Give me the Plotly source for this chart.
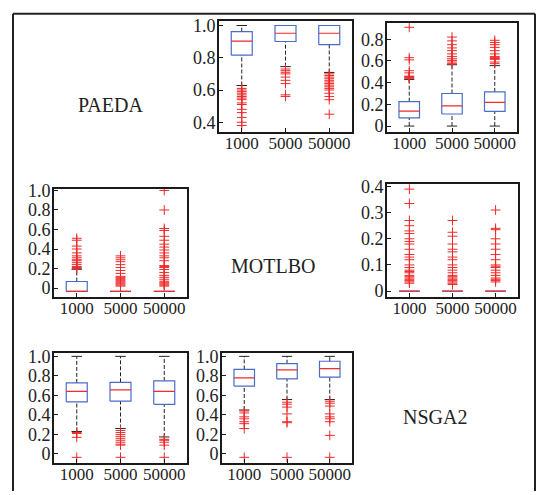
import plotly.graph_objects as go

W, H = 538, 495

categories = ["1000", "5000", "50000"]

# Row PAEDA, column MOTLBO
pm_low = [0.628, 0.745, 0.709]
pm_q1 = [0.816, 0.901, 0.881]
pm_med = [0.903, 0.952, 0.952]
pm_q3 = [0.962, 1.0, 1.0]
pm_high = [1.0, 1.0, 1.0]
pm_out = [
    [0.61, 0.60, 0.59, 0.58, 0.57, 0.56, 0.55, 0.54, 0.52, 0.51, 0.48, 0.46, 0.43, 0.40, 0.38],
    [0.73, 0.72, 0.71, 0.70, 0.68, 0.66, 0.64, 0.57, 0.56],
    [0.70, 0.69, 0.68, 0.67, 0.66, 0.65, 0.64, 0.63, 0.62, 0.61, 0.60, 0.58, 0.56, 0.54, 0.45],
]

# Row PAEDA, column NSGA2
pn_low = [0.0, 0.0, 0.0]
pn_q1 = [0.075, 0.111, 0.135]
pn_med = [0.138, 0.186, 0.219]
pn_q3 = [0.225, 0.30, 0.315]
pn_high = [0.43, 0.565, 0.557]
pn_out = [
    [0.91, 0.63, 0.61, 0.51, 0.49, 0.46, 0.455, 0.45, 0.445, 0.44],
    [0.82, 0.785, 0.75, 0.72, 0.695, 0.665, 0.64, 0.62, 0.605, 0.59, 0.575],
    [0.79, 0.77, 0.75, 0.725, 0.695, 0.665, 0.64, 0.63, 0.625, 0.62, 0.615, 0.59, 0.575],
]

# Row MOTLBO, column PAEDA
mp_low = [-0.035, -0.035, -0.035]
mp_q1 = [-0.035, -0.035, -0.035]
mp_med = [-0.035, -0.035, -0.035]
mp_q3 = [0.067, -0.035, -0.035]
mp_high = [0.193, -0.035, -0.035]
mp_out = [
    [0.51, 0.49, 0.43, 0.40, 0.36, 0.33, 0.31, 0.29, 0.28, 0.26, 0.24, 0.22, 0.21, 0.20],
    [0.33, 0.31, 0.29, 0.27, 0.24, 0.21, 0.18, 0.15, 0.12, 0.11, 0.10, 0.09, 0.08, 0.07,
     0.06, 0.05, 0.04, 0.03, 0.02],
    [1.0, 0.80, 0.61, 0.59, 0.53, 0.49, 0.45, 0.42, 0.39, 0.36, 0.33, 0.31, 0.28, 0.23,
     0.22, 0.21, 0.19, 0.16, 0.13, 0.11, 0.09, 0.07, 0.06, 0.05, 0.04, 0.03, 0.02],
]

# Row MOTLBO, column NSGA2
mn_low = [0.0, 0.0, 0.0]
mn_q1 = [0.0, 0.0, 0.0]
mn_med = [0.0, 0.0, 0.0]
mn_q3 = [0.0, 0.0, 0.0]
mn_high = [0.0, 0.0, 0.0]
mn_out = [
    [0.39, 0.335, 0.27, 0.25, 0.23, 0.22, 0.20, 0.19, 0.18, 0.16, 0.14, 0.13, 0.12, 0.10,
     0.09, 0.08, 0.075, 0.07, 0.06, 0.055, 0.05, 0.045, 0.04, 0.035, 0.03],
    [0.27, 0.225, 0.21, 0.18, 0.16, 0.15, 0.13, 0.12, 0.10, 0.09, 0.08, 0.07, 0.06, 0.055,
     0.05, 0.045, 0.04, 0.035, 0.03, 0.025],
    [0.31, 0.24, 0.235, 0.20, 0.18, 0.16, 0.14, 0.12, 0.10, 0.095, 0.09, 0.08, 0.07, 0.06,
     0.05, 0.045, 0.04, 0.035],
]

# Row NSGA2, column PAEDA
np_low = [0.23, 0.26, 0.174]
np_q1 = [0.534, 0.541, 0.508]
np_med = [0.64, 0.656, 0.64]
np_q3 = [0.728, 0.734, 0.748]
np_high = [1.0, 1.0, 1.0]
np_out = [
    [0.22, 0.21, 0.17, -0.035],
    [0.24, 0.22, 0.20, 0.18, 0.16, 0.14, 0.12, 0.10, 0.09, -0.035],
    [0.15, 0.14, 0.12, 0.09, -0.035],
]

# Row NSGA2, column MOTLBO
nm_low = [0.45, 0.557, 0.557]
nm_q1 = [0.695, 0.77, 0.787]
nm_med = [0.78, 0.862, 0.875]
nm_q3 = [0.866, 0.925, 0.95]
nm_high = [1.0, 1.0, 1.0]
nm_out = [
    [0.44, 0.42, 0.38, 0.36, 0.33, 0.31, 0.26, -0.035],
    [0.53, 0.51, 0.48, 0.41, 0.33, 0.32, -0.035],
    [0.54, 0.52, 0.49, 0.41, 0.38, 0.36, 0.33, 0.19, -0.035],
]

ticks_01 = [0, 0.2, 0.4, 0.6, 0.8, 1.0]
ticks_01_text = ["0", "0.2", "0.4", "0.6", "0.8", "1.0"]
ticks_pm = [0.4, 0.6, 0.8, 1.0]
ticks_pm_text = ["0.4", "0.6", "0.8", "1.0"]
ticks_pn = [0, 0.2, 0.4, 0.6, 0.8]
ticks_pn_text = ["0", "0.2", "0.4", "0.6", "0.8"]
ticks_mn = [0, 0.1, 0.2, 0.3, 0.4]
ticks_mn_text = ["0", "0.1", "0.2", "0.3", "0.4"]

algorithms = ["PAEDA", "MOTLBO", "NSGA2"]

BLUE = "#4a6cc8"
RED = "#ee2a2a"
FONT = "Liberation Serif"

# panels: (stats, pixel box [x0, x1, y0_top, y1_bottom], y range, ticks)
panels = [
    ((pm_low, pm_q1, pm_med, pm_q3, pm_high, pm_out), (219, 352, 13, 127), (0.34, 1.03), ticks_pm, ticks_pm_text),
    ((pn_low, pn_q1, pn_med, pn_q3, pn_high, pn_out), (387, 517, 15, 127), (-0.054, 0.953), ticks_pn, ticks_pn_text),
    ((mp_low, mp_q1, mp_med, mp_q3, mp_high, mp_out), (54, 187, 185, 296), (-0.09, 1.02), ticks_01, ticks_01_text),
    ((mn_low, mn_q1, mn_med, mn_q3, mn_high, mn_out), (387, 518, 180, 296), (-0.022, 0.411), ticks_mn, ticks_mn_text),
    ((np_low, np_q1, np_med, np_q3, np_high, np_out), (54, 187, 354, 466), (-0.09, 1.03), ticks_01, ticks_01_text),
    ((nm_low, nm_q1, nm_med, nm_q3, nm_high, nm_out), (222, 352, 354, 466), (-0.09, 1.03), ticks_01, ticks_01_text),
]

label_pos = [(110, 99), (273, 264), (435, 419)]

fig = go.Figure()
BW = 0.24   # half box width
CW = 0.12   # half cap width

for k, (stats, px, yr, tv, tt) in enumerate(panels):
    low, q1, med, q3, high, outs = stats
    sfx = "" if k == 0 else str(k + 1)
    xa, ya = "x" + sfx, "y" + sfx
    bx, by, mx, my, wx, wy, cx, cy, ox, oy = [], [], [], [], [], [], [], [], [], []
    for i in range(len(categories)):
        if high[i] > q3[i]:
            wx += [i, i, None]
            wy += [q3[i], high[i], None]
            cx += [i - CW, i + CW, None]
            cy += [high[i], high[i], None]
        if low[i] < q1[i]:
            wx += [i, i, None]
            wy += [low[i], q1[i], None]
            cx += [i - CW, i + CW, None]
            cy += [low[i], low[i], None]
        bx += [i - BW, i + BW, i + BW, i - BW, i - BW, None]
        by += [q1[i], q1[i], q3[i], q3[i], q1[i], None]
        mx += [i - BW, i + BW, None]
        my += [med[i], med[i], None]
        ox += [i] * len(outs[i])
        oy += outs[i]
    common = dict(xaxis=xa, yaxis=ya, showlegend=False, hoverinfo="skip")
    fig.add_trace(go.Scatter(x=wx, y=wy, mode="lines",
                             line=dict(color="#222", width=1, dash="4px,2px"), **common))
    fig.add_trace(go.Scatter(x=cx, y=cy, mode="lines",
                             line=dict(color="#222", width=1), **common))
    fig.add_trace(go.Scatter(x=bx, y=by, mode="lines",
                             line=dict(color=BLUE, width=1.2), **common))
    fig.add_trace(go.Scatter(x=mx, y=my, mode="lines",
                             line=dict(color=RED, width=1.2), **common))
    fig.add_trace(go.Scatter(x=ox, y=oy, mode="markers",
                             marker=dict(symbol="cross-thin", size=7,
                                         line=dict(color=RED, width=1)), **common))

    x0, x1, y0, y1 = px
    axis_common = dict(showline=True, linewidth=2, linecolor="#1a1a1a", mirror=True,
                       ticks="inside", ticklen=4, tickwidth=1, tickcolor="#1a1a1a",
                       showgrid=False, zeroline=False)
    fig.layout["xaxis" + sfx] = dict(domain=[x0 / W, x1 / W], anchor=ya,
                                     range=[-0.52, 2.52], tickvals=[0, 1, 2],
                                     ticktext=categories, ticklabelstandoff=-5,
                                     tickfont=dict(family=FONT, size=17, color="#222"),
                                     **axis_common)
    fig.layout["yaxis" + sfx] = dict(domain=[1 - y1 / H, 1 - y0 / H], anchor=xa,
                                     range=list(yr), tickvals=tv, ticktext=tt,
                                     ticklabelstandoff=-2,
                                     tickfont=dict(family=FONT, size=18, color="#222"),
                                     **axis_common)

for name, (lx, ly) in zip(algorithms, label_pos):
    fig.add_annotation(x=lx / W, y=1 - ly / H, xref="paper", yref="paper",
                       xanchor="center", yanchor="middle",
                       text=name, showarrow=False,
                       font=dict(family=FONT, size=20, color="#222"))

# outer frame
fig.add_shape(type="line", xref="paper", yref="paper", x0=13 / W, x1=535 / W,
              y0=1 - 6 / H, y1=1 - 6 / H, line=dict(color="#222", width=2))
fig.add_shape(type="line", xref="paper", yref="paper", x0=13 / W, x1=13 / W,
              y0=0, y1=1 - 6 / H, line=dict(color="#222", width=2))
fig.add_shape(type="line", xref="paper", yref="paper", x0=535 / W, x1=535 / W,
              y0=0, y1=1 - 6 / H, line=dict(color="#222", width=2))

fig.update_layout(width=W, height=H, margin=dict(l=0, r=0, t=0, b=0),
                  paper_bgcolor="white", plot_bgcolor="white")

fig.write_html(
    "out.html", config={"displayModeBar": False},
    post_script=("document.body.style.margin='0';document.body.style.padding='0';"
                 "document.body.style.overflow='hidden';"
                 "document.documentElement.style.overflow='hidden';"))
